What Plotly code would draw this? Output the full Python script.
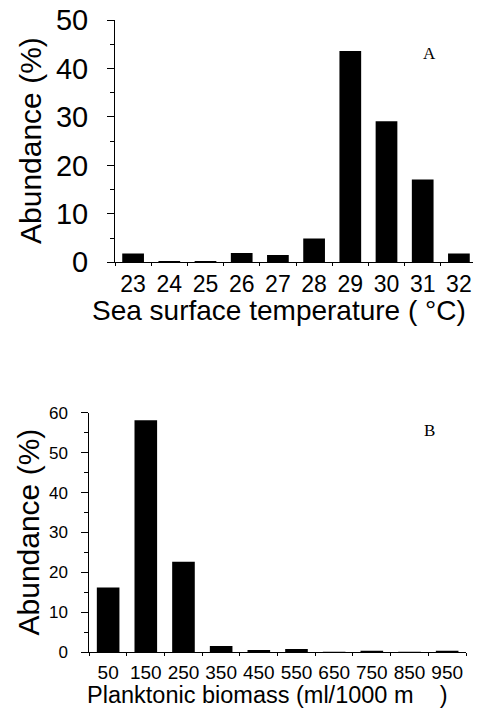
"""Two-panel abundance histogram: sea surface temperature (A) and planktonic biomass (B)."""

import plotly.graph_objects as go

# the page body keeps its default 8 px margin, so the figure is drawn 8 px in
OFF = 8
W, H = 481 - OFF, 708 - OFF

temp_labels = ["23", "24", "25", "26", "27", "28", "29", "30", "31", "32"]
temp_abundance = [1.8, 0.2, 0.2, 1.9, 1.5, 4.9, 43.6, 29.1, 17.1, 1.8]

biomass_labels = ["50", "150", "250", "350", "450", "550", "650", "750", "850", "950"]
biomass_abundance = [16.2, 58.1, 22.7, 1.6, 0.6, 0.8, 0.15, 0.3, 0.15, 0.3]

SANS = "Arial, Liberation Sans, sans-serif"
SERIF = "Times New Roman, Liberation Serif, serif"
INK = "#000000"


def px_x(v):
    return (v - OFF) / W


def px_y(v):
    return 1 - (v - OFF) / H


fig = go.Figure()

fig.add_trace(go.Bar(x=temp_labels, y=temp_abundance, marker={"color": INK, "line": {"width": 0}},
                     xaxis="x", yaxis="y"))
fig.add_trace(go.Bar(x=biomass_labels, y=biomass_abundance, marker={"color": INK, "line": {"width": 0}},
                     xaxis="x2", yaxis="y2"))

dom_a_x = [px_x(115), px_x(477)]
dom_a_y = [px_y(262.3), px_y(20)]
dom_b_x = [px_x(89.3), px_x(466)]
dom_b_y = [px_y(652.3), px_y(412.7)]


def cat_axis(domain, anchor, size, standoff):
    return dict(
        domain=domain, anchor=anchor, type="category", range=[-0.5, 9.5],
        tickson="boundaries", ticks="outside", ticklen=3, tickwidth=1, tickcolor=INK,
        showline=True, linecolor=INK, linewidth=1, showgrid=False, zeroline=False,
        tickfont={"size": size, "color": INK, "family": SANS}, ticklabelstandoff=standoff,
        tickangle=0, ticklabeloverflow="allow", automargin=False, fixedrange=True,
    )


def val_axis(domain, anchor, top, size, standoff):
    return dict(
        domain=domain, anchor=anchor, range=[0, top], dtick=10, tick0=0,
        ticks="outside", ticklen=7, tickwidth=1, tickcolor=INK,
        minor={"dtick": 5, "ticks": "outside", "ticklen": 4, "tickwidth": 1, "tickcolor": INK},
        showline=True, linecolor=INK, linewidth=1, showgrid=False, zeroline=False,
        tickfont={"size": size, "color": INK, "family": SANS}, ticklabelstandoff=standoff,
        ticklabeloverflow="allow", automargin=False, fixedrange=True,
    )


def inner_x(domain, anchor, over):
    # mirror of the boundary ticks on the inside, so the ticks cross the axis line
    return dict(
        domain=domain, anchor=anchor, overlaying=over, range=[-0.5, 9.5],
        tickmode="linear", tick0=-0.5, dtick=1, ticks="inside", ticklen=3, tickwidth=1,
        tickcolor=INK, showticklabels=False, showline=False, showgrid=False,
        zeroline=False, automargin=False, fixedrange=True,
    )


def inner_y(domain, anchor, over, top):
    return dict(
        domain=domain, anchor=anchor, overlaying=over, range=[0, top], dtick=10, tick0=0,
        ticks="inside", ticklen=7, tickwidth=1, tickcolor=INK,
        minor={"dtick": 5, "ticks": "inside", "ticklen": 4, "tickwidth": 1, "tickcolor": INK},
        showticklabels=False, showline=False, showgrid=False, zeroline=False,
        automargin=False, fixedrange=True,
    )


fig.update_layout(
    width=W,
    height=H,
    margin={"l": 0, "r": 0, "t": 0, "b": 0},
    paper_bgcolor="white",
    plot_bgcolor="white",
    showlegend=False,
    bargap=0.4,
    font={"family": SANS, "color": INK},
    xaxis=cat_axis(dom_a_x, "y", 23, 1),
    yaxis=val_axis(dom_a_y, "x", 50, 29, 13),
    xaxis2=cat_axis(dom_b_x, "y2", 19, 3),
    yaxis2=val_axis(dom_b_y, "x2", 60, 17, 10),
    xaxis3=inner_x(dom_a_x, "y", "x"),
    yaxis3=inner_y(dom_a_y, "x", "y", 50),
    xaxis4=inner_x(dom_b_x, "y2", "x2"),
    yaxis4=inner_y(dom_b_y, "x2", "y2", 60),
)

annotations = [
    dict(text="Abundance (%)", x=px_x(31), y=px_y(141), textangle=-90, size=30),
    dict(text="Abundance (%)", x=px_x(28), y=px_y(532.5), textangle=-90, size=30),
    dict(text="Sea surface temperature ( °C)", x=px_x(278.5), y=px_y(310), textangle=0, size=28),
    dict(text="Planktonic biomass (ml/1000 m\u00a0\u00a0\u00a0\u00a0)", x=px_x(266.5), y=px_y(695),
         textangle=0, size=23.5),
]
for a in annotations:
    fig.add_annotation(
        xref="paper", yref="paper", x=a["x"], y=a["y"], text=a["text"], textangle=a["textangle"],
        showarrow=False, xanchor="center", yanchor="middle",
        font={"size": a["size"], "family": SANS, "color": INK},
    )

# panel letters
fig.add_annotation(xref="paper", yref="paper", x=px_x(437.7), y=px_y(42.5), text="A",
                   showarrow=False, font={"size": 17, "family": SERIF, "color": INK})
fig.add_annotation(xref="paper", yref="paper", x=px_x(436.5), y=px_y(430), text="B",
                   showarrow=False, font={"size": 17, "family": SERIF, "color": INK})

fig.write_html("out.html")
